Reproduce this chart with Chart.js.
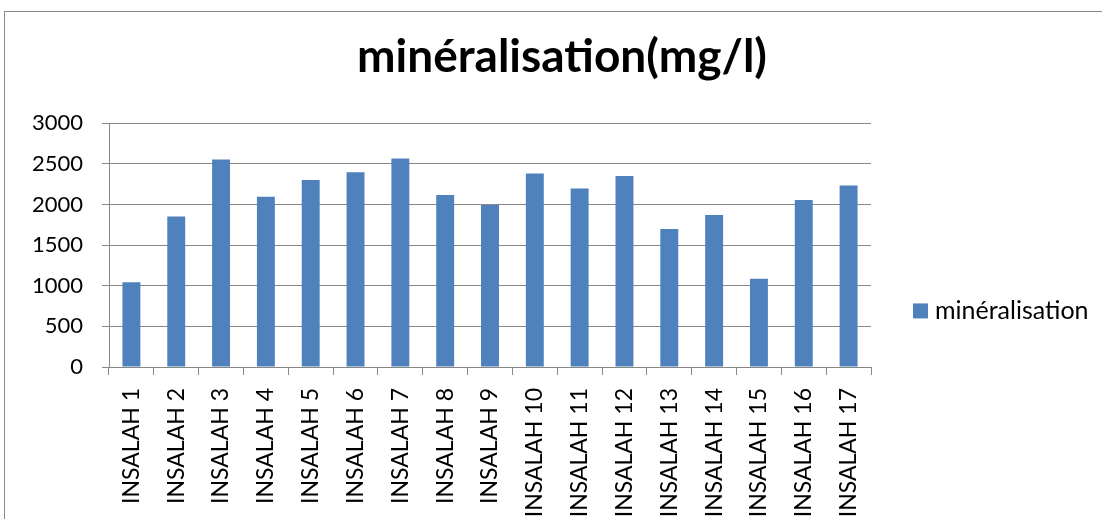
<!DOCTYPE html>
<html>
<head>
<meta charset="utf-8">
<script src="https://cdn.jsdelivr.net/npm/chart.js@4.4.1/dist/chart.umd.min.js"></script>
<style>
  body { margin: 0; background: #fff; }
  #wrap { width: 1102px; height: 519px; position: relative; }
</style>
</head>
<body>
<div id="wrap"><canvas id="myChart" width="1102" height="519"></canvas></div>
<script>
const categories = ["INSALAH 1","INSALAH 2","INSALAH 3","INSALAH 4","INSALAH 5","INSALAH 6","INSALAH 7","INSALAH 8","INSALAH 9","INSALAH 10","INSALAH 11","INSALAH 12","INSALAH 13","INSALAH 14","INSALAH 15","INSALAH 16","INSALAH 17"]
const mineralisation = [1044, 1853, 2552, 2096, 2302, 2396, 2565, 2117, 1994, 2380, 2195, 2351, 1698, 1870, 1085, 2055, 2232]
const seriesName = "minéralisation"
const chartTitle = "minéralisation(mg/l)"
const yTicks = [0, 500, 1000, 1500, 2000, 2500, 3000]

const gridColor = "#878787"
const barColor = "#4F81BD"

// outer frame of the chart like excel
const framePlugin = {
    id: "frame",
    beforeDraw(chart) {
        const ctx = chart.ctx
        ctx.save()
        ctx.strokeStyle = "#888888"
        ctx.lineWidth = 1
        ctx.strokeRect(4.5, 11.5, chart.width + 20, chart.height + 20)
        ctx.restore()
    }
}

// legend drawn next to the plot, a bit below middle
const legendPlugin = {
    id: "sideLegend",
    afterDraw(chart) {
        const ctx = chart.ctx
        const area = chart.chartArea
        const x = area.right + 42
        const y = area.top + (area.bottom - area.top) * 0.77
        ctx.save()
        ctx.fillStyle = barColor
        ctx.fillRect(x, y - 7.5, 15, 15)
        ctx.fillStyle = "#000"
        ctx.font = "25px Lato"
        ctx.textBaseline = "middle"
        ctx.fillText(chart.data.datasets[0].label, x + 22, y)
        ctx.restore()
    }
}

Chart.defaults.font.family = "Lato"
Chart.defaults.color = "#000"

let ctx = document.getElementById("myChart")
let chart = new Chart(ctx, {
    type: "bar",
    data: {
        labels: categories,
        datasets: [{
            label: seriesName,
            backgroundColor: barColor,
            data: mineralisation,
            barPercentage: 0.4,
            categoryPercentage: 1.0
        }]
    },
    options: {
        responsive: false,
        animation: false,
        layout: {
            padding: { left: 22, right: 0, top: 0, bottom: 0 }
        },
        scales: {
            x: {
                offset: true,
                grid: {
                    offset: true,
                    drawOnChartArea: false,
                    color: gridColor,
                    tickLength: 8
                },
                border: { color: gridColor },
                ticks: {
                    minRotation: 90,
                    maxRotation: 90,
                    autoSkip: false,
                    padding: 13,
                    font: { size: 23 }
                },
                afterFit(scale) { scale.height = 152 }
            },
            y: {
                min: 0,
                max: 3000,
                afterBuildTicks(scale) { scale.ticks = yTicks.map(v => ({ value: v })) },
                grid: { color: gridColor, tickLength: 7 },
                border: { color: gridColor },
                ticks: {
                    padding: 19,
                    font: { size: 22 },
                    callback: (v) => String(v)
                },
                afterFit(scale) { scale.width = 87 }
            },
            // empty space on the right for the legend
            side: {
                position: "right",
                display: true,
                min: 0,
                max: 1,
                grid: { display: false },
                border: { display: false },
                ticks: { display: false },
                afterFit(scale) { scale.width = 231 }
            }
        },
        plugins: {
            legend: { display: false },
            tooltip: { enabled: false },
            title: {
                display: true,
                text: chartTitle,
                font: { size: 46, weight: "bold" },
                padding: { top: 30, bottom: 38 }
            }
        }
    },
    plugins: [framePlugin, legendPlugin]
});
</script>
</body>
</html>
